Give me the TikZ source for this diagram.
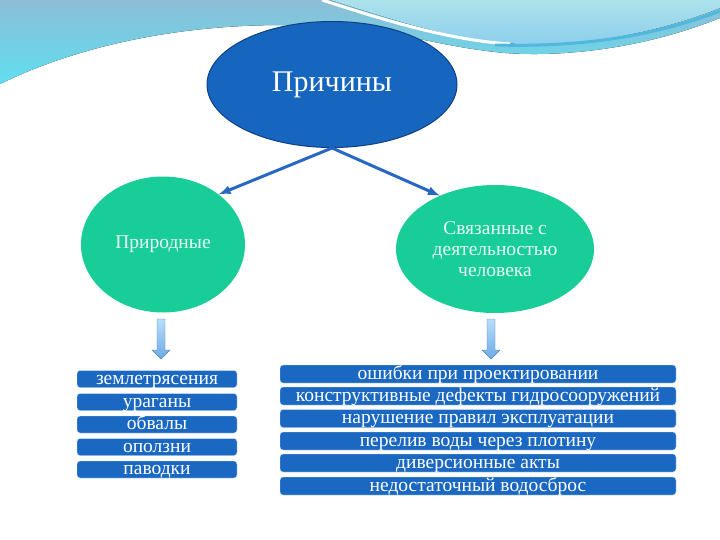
\documentclass[tikz,border=0pt]{standalone}
\usepackage{fontspec}
\setmainfont{Liberation Serif}
\usetikzlibrary{arrows,shapes.geometric}
\definecolor{causeblue}{RGB}{22,102,192}
\definecolor{causeedge}{RGB}{16,64,128}
\definecolor{mintgreen}{RGB}{24,205,152}
\definecolor{linkblue}{RGB}{38,104,196}
\definecolor{boxblue}{RGB}{26,104,194}
\definecolor{wavesteel}{RGB}{140,190,214}
\definecolor{wavecyan}{RGB}{96,222,240}
\definecolor{wavelight}{RGB}{172,226,236}
\definecolor{wavemid}{RGB}{140,206,236}
\definecolor{waveline}{RGB}{80,184,222}
\definecolor{droplight}{RGB}{184,222,248}
\definecolor{dropfill}{RGB}{110,170,230}
\definecolor{dropedge}{RGB}{70,130,200}

\tikzset{
  cause/.style={ellipse, draw=causeedge, line width=1pt, fill=causeblue, text=white,
                minimum width=250pt, minimum height=126pt, inner sep=0pt,
                font=\fontsize{30}{30}\selectfont},
  kind/.style={ellipse, fill=mintgreen, text=white!90!mintgreen, inner sep=0pt,
               align=center, font=\fontsize{19.5}{21}\selectfont},
  item/.style={rectangle, rounded corners=3pt, draw=white!80!boxblue, fill=boxblue,
               text=white, inner sep=0pt, text height=13pt, text depth=3pt,
               font=\fontsize{19.5}{19.5}\selectfont},
  link/.style={-latex, draw=linkblue, line width=3pt},
}

\begin{document}
\begin{tikzpicture}[x=1pt, y=-1pt]
            % Page and top waves
            \fill[white] (0,0) rectangle (720,540);
            \useasboundingbox (0,0) rectangle (720,540);
            \fill[top color=wavesteel, bottom color=wavecyan] (0,0) -- (720,0) -- (720,18)
                 .. controls (640,50) and (560,57) .. (505,53)
                 .. controls (440,47) and (400,31) .. (340,27)
                 .. controls (210,18) and (90,40) .. (0,84) -- cycle;
            \fill[top color=wavelight, bottom color=wavemid] (330,0)
                 .. controls (400,22) and (460,42) .. (520,44)
                 .. controls (600,46) and (670,28) .. (720,8) -- (720,0) -- cycle;
            \draw[white, line width=3pt]    (322,0) .. controls (390,22) and (450,40) .. (510,44);
            \draw[waveline, line width=3pt] (495,45) .. controls (600,48) and (670,30) .. (720,11);
            % Ellipses
            \node[cause]                                            (cause)   at (332, 84.5) {Причины};
            \node[kind, minimum width=164pt, minimum height=136pt] (natural) at (163,244.5) {Природные};
            \node[kind, minimum width=198pt, minimum height=128pt] (human)   at (495,249)   {Связанные с\\деятельностью\\человека};
            % Links
            \draw[link] (cause.south) -- (natural.42);
            \draw[link] (cause.south) -- (human.136);
            % Down arrows
            \draw[draw=dropedge, top color=droplight, bottom color=dropfill]
                 (157,319) -- (165,319) -- (165,350) -- (170,350) -- (161,359) -- (152,350) -- (157,350) -- cycle;
            \draw[draw=dropedge, top color=droplight, bottom color=dropfill]
                 (487,319) -- (495,319) -- (495,350) -- (500,350) -- (491,359) -- (482,350) -- (487,350) -- cycle;
            % Natural causes
            \node[item, minimum width=160pt, minimum height=17pt] (quake)    at (157,379)   {землетрясения};
            \node[item, minimum width=160pt, minimum height=17pt] (storm)    at (157,402)   {ураганы};
            \node[item, minimum width=160pt, minimum height=17pt] (rockfall) at (157,424.5) {обвалы};
            \node[item, minimum width=160pt, minimum height=17pt] (slide)    at (157,447)   {оползни};
            \node[item, minimum width=160pt, minimum height=17pt] (flood)    at (157,469.5) {паводки};
            % Human causes
            \node[item, minimum width=396pt, minimum height=18pt] (design)   at (478,374)   {ошибки при проектировании};
            \node[item, minimum width=396pt, minimum height=18pt] (defect)   at (478,396)   {конструктивные дефекты гидросооружений};
            \node[item, minimum width=396pt, minimum height=18pt] (misuse)   at (478,418.5) {нарушение правил эксплуатации};
            \node[item, minimum width=396pt, minimum height=18pt] (overflow) at (478,441)   {перелив воды через плотину};
            \node[item, minimum width=396pt, minimum height=18pt] (sabotage) at (478,463)   {диверсионные акты};
            \node[item, minimum width=396pt, minimum height=18pt] (spillway) at (478,486)   {недостаточный водосброс};
        \end{tikzpicture}
\end{document}
